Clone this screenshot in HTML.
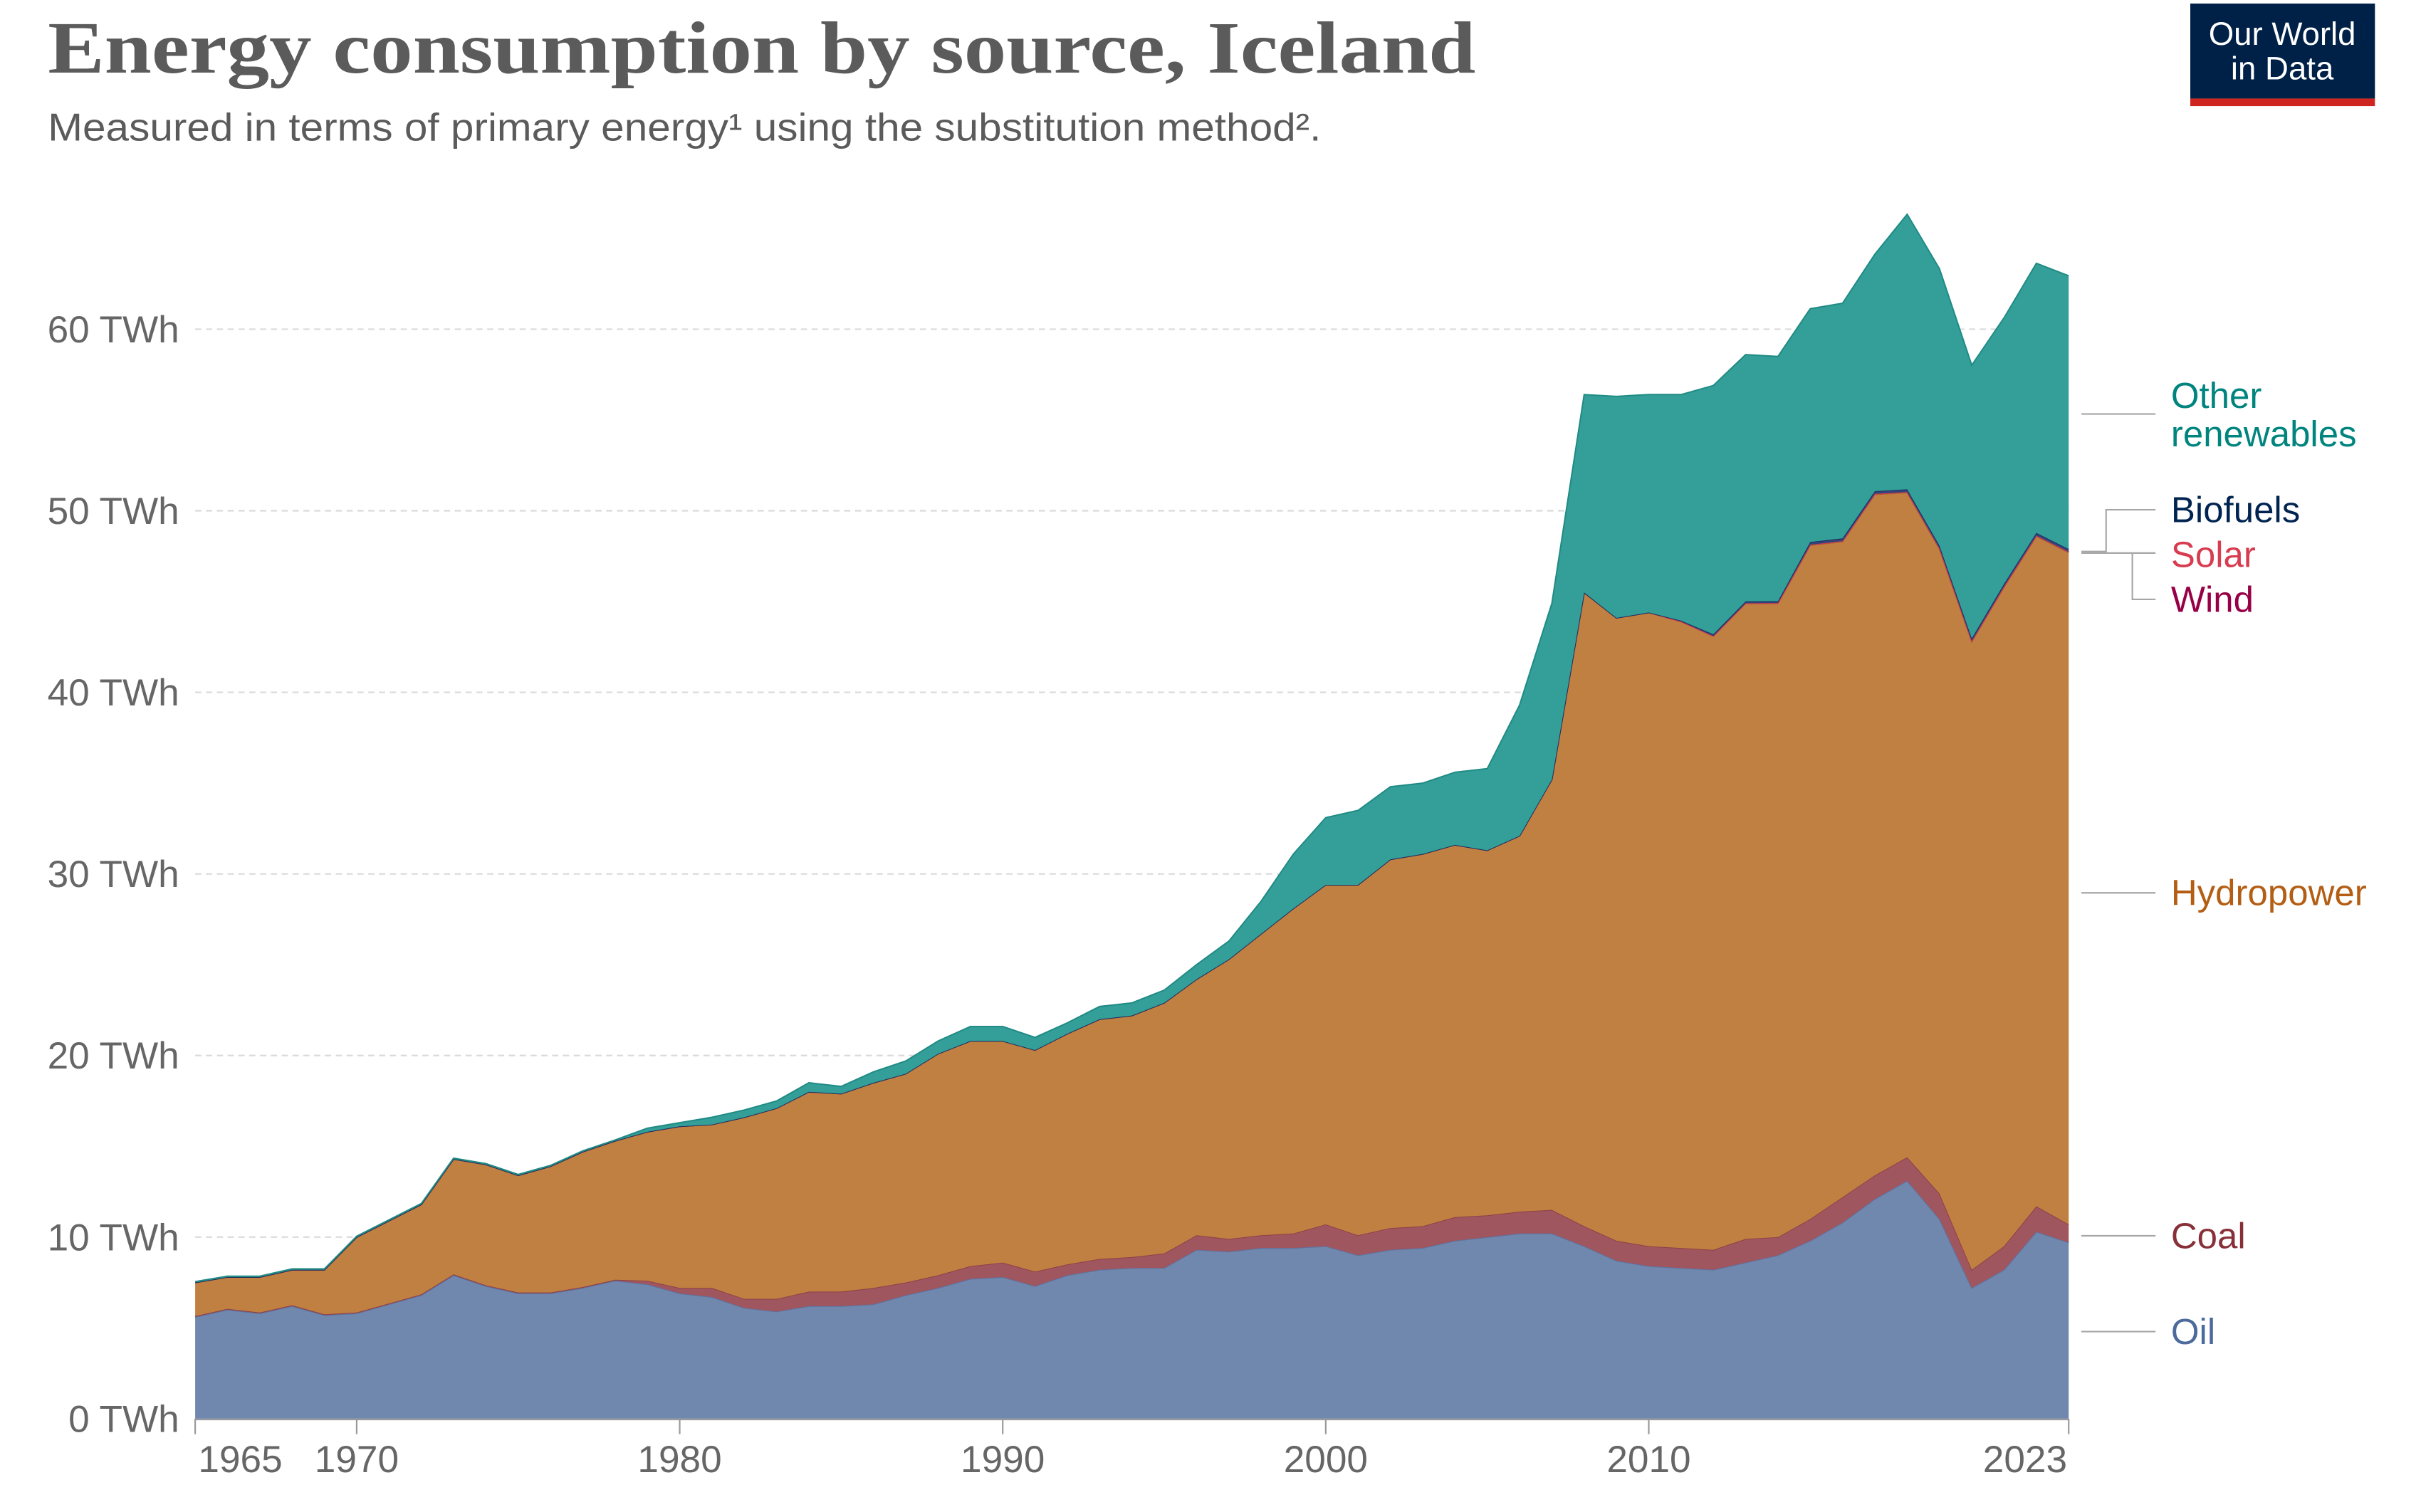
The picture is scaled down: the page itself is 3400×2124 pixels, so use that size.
<!DOCTYPE html>
<html><head><meta charset="utf-8"><style>html,body{margin:0;padding:0;background:#fff}svg{display:block}</style></head>
<body>
<svg id="chart" width="3400" height="2124" viewBox="0 0 1566.8 978.8" xmlns="http://www.w3.org/2000/svg" font-family="'Liberation Sans', sans-serif">
<text x="31" y="47" font-family="'Liberation Serif', serif" font-weight="bold" font-size="48" fill="#5b5b5b" textLength="924" lengthAdjust="spacingAndGlyphs">Energy consumption by source, Iceland</text>
<text x="31" y="91" font-size="25" fill="#5b5b5b" textLength="824" lengthAdjust="spacingAndGlyphs">Measured in terms of primary energy¹ using the substitution method².</text>
<g>
<rect x="1417.5" y="2.3" width="119.5" height="61.5" fill="#002147"/>
<rect x="1417.5" y="63.8" width="119.5" height="4.9" fill="#ce261e"/>
<text x="1477" y="29" text-anchor="middle" font-size="21" fill="#fff">Our World</text>
<text x="1477" y="51.5" text-anchor="middle" font-size="21" fill="#fff">in Data</text>
</g>
<g id="grid"></g>
<g id="areas"></g>
<g id="axes"></g>
<g id="labels"></g>
</svg>
<script>
const years = [];
for (let y = 1965; y <= 2023; y++) years.push(y);
const oil = [5.6,6.0,5.8,6.2,5.7,5.8,6.3,6.8,7.9,7.3,6.9,6.9,7.2,7.6,7.4,6.9,6.7,6.1,5.9,6.2,6.2,6.3,6.8,7.2,7.7,7.8,7.3,7.9,8.2,8.3,8.3,9.3,9.2,9.4,9.4,9.5,9.0,9.3,9.4,9.8,10.0,10.2,10.2,9.5,8.7,8.4,8.3,8.2,8.6,9.0,9.8,10.8,12.1,13.1,11.0,7.2,8.2,10.3,9.7];
const coal = [0.05,0.05,0.05,0.05,0.05,0.05,0.05,0.05,0.05,0.05,0.05,0.05,0.05,0.05,0.2,0.3,0.5,0.5,0.7,0.8,0.8,0.9,0.7,0.7,0.7,0.8,0.8,0.6,0.6,0.6,0.8,0.8,0.7,0.7,0.8,1.2,1.1,1.2,1.2,1.3,1.2,1.2,1.3,1.1,1.1,1.1,1.1,1.1,1.3,1.0,1.2,1.4,1.3,1.3,1.4,1.0,1.3,1.4,1.0];
const hydro = [1.85,1.75,1.95,1.95,2.45,4.15,4.55,4.95,6.35,6.65,6.45,6.95,7.45,7.65,8.2,8.9,9.0,10.0,10.5,11.0,10.9,11.3,11.5,12.2,12.4,12.2,12.2,12.7,13.2,13.3,13.8,14.1,15.4,16.6,17.9,18.7,19.3,20.3,20.5,20.5,20.1,20.7,23.7,34.9,34.3,34.9,34.5,33.8,35.0,34.9,37.1,36.1,37.5,36.6,35.5,34.6,36.3,36.9,37.0];
const wind = [0,0,0,0,0,0,0,0,0,0,0,0,0,0,0,0,0,0,0,0,0,0,0,0,0,0,0,0,0,0,0,0,0,0,0,0,0,0,0,0,0,0,0,0,0,0,0,0,0.01,0.02,0.03,0.03,0.03,0.03,0.03,0.02,0.03,0.03,0.03];
const solar = [0,0,0,0,0,0,0,0,0,0,0,0,0,0,0,0,0,0,0,0,0,0,0,0,0,0,0,0,0,0,0,0,0,0,0,0,0,0,0,0,0,0,0,0,0,0,0,0,0,0,0,0,0,0,0,0,0,0,0.01];
const biofuels = [0,0,0,0,0,0,0,0,0,0,0,0,0,0,0,0,0,0,0,0,0,0,0,0,0,0,0,0,0,0,0,0,0,0,0,0,0,0,0,0,0,0,0,0,0,0,0.05,0.1,0.1,0.1,0.15,0.15,0.15,0.15,0.15,0.15,0.15,0.15,0.15];
const other = [0.05,0.05,0.05,0.05,0.05,0.05,0.05,0.05,0.05,0.05,0.05,0.05,0.05,0.05,0.2,0.2,0.4,0.4,0.4,0.5,0.4,0.6,0.7,0.7,0.8,0.8,0.7,0.6,0.7,0.7,0.7,0.8,1.0,1.8,3.0,3.7,4.1,4.0,3.9,4.0,4.5,7.2,9.7,10.9,12.2,12.0,12.45,13.7,13.59,13.48,12.85,12.95,13.05,15.15,15.25,15.05,14.65,14.85,15.05];
const yTicks = [0,10,20,30,40,50,60];
const yTickLabels = ["0 TWh","10 TWh","20 TWh","30 TWh","40 TWh","50 TWh","60 TWh"];
const xTicks = [1965,1970,1980,1990,2000,2010,2023];
const xTickLabels = ["1965","1970","1980","1990","2000","2010","2023"];

const NS = "http://www.w3.org/2000/svg";
const X0 = 126.3, X1 = 1338.8, Y0 = 918.4, PER10 = 117.55;
function xs(yr){ return X0 + (yr - 1965) * (X1 - X0) / 58; }
function ys(v){ return Y0 - v * PER10 / 10; }
function mk(tag, attrs, parent){ const e = document.createElementNS(NS, tag); for (const k in attrs) e.setAttribute(k, attrs[k]); parent.appendChild(e); return e; }

const grid = document.getElementById('grid');
yTicks.forEach((t, i) => {
  if (t > 0) {
    const l = mk('line', {x1: X0, x2: X1, y1: ys(t), y2: ys(t), stroke: '#dadada', 'stroke-dasharray': '4,3', 'stroke-width': 1}, grid);
    
    
  }
  const tx = mk('text', {x: 116, y: ys(t) + 8.5, 'text-anchor': 'end', 'font-size': 24.5, fill: '#666'}, grid);
  tx.textContent = yTickLabels[i];
  
  
});

const series = [
  {name: 'oil', vals: oil, fill: '#7087ae', stroke: '#5b73a0'},
  {name: 'coal', vals: coal, fill: '#a0565f', stroke: '#8d3f49'},
  {name: 'hydropower', vals: hydro, fill: '#c08041', stroke: '#b06a26'},
  {name: 'wind', vals: wind, fill: '#a1306a', stroke: '#8c1c50'},
  {name: 'solar', vals: solar, fill: '#e35c6e', stroke: '#d73c50'},
  {name: 'biofuels', vals: biofuels, fill: '#34447a', stroke: '#1c2e5e'},
  {name: 'other-renewables', vals: other, fill: '#339f98', stroke: '#1f8a83'}
];
const areas = document.getElementById('areas');
let base = years.map(() => 0);
series.forEach(s => {
  const top = base.map((b, i) => b + s.vals[i]);
  let d = 'M' + years.map((y, i) => xs(y).toFixed(2) + ',' + ys(top[i]).toFixed(2)).join('L');
  for (let i = years.length - 1; i >= 0; i--) d += 'L' + xs(years[i]).toFixed(2) + ',' + ys(base[i]).toFixed(2);
  d += 'Z';
  const p = mk('path', {d: d, fill: s.fill, stroke: 'none'}, areas);
  
  
  const ld = 'M' + years.map((y, i) => xs(y).toFixed(2) + ',' + ys(top[i]).toFixed(2)).join('L');
  const l = mk('path', {d: ld, fill: 'none', stroke: s.stroke, 'stroke-width': 0.9}, areas);
  
  
  base = top;
});

const axes = document.getElementById('axes');
const ax = mk('line', {x1: X0, x2: X1, y1: Y0 + 0.5, y2: Y0 + 0.5, stroke: '#999', 'stroke-width': 1}, axes);


xTicks.forEach((t, i) => {
  const tk = mk('line', {x1: xs(t), x2: xs(t), y1: Y0, y2: Y0 + 10, stroke: '#999', 'stroke-width': 1}, axes);
  
  
  let anchor = 'middle', xx = xs(t);
  if (i === 0) { anchor = 'start'; xx = xs(t) + 2; }
  if (i === xTicks.length - 1) { anchor = 'end'; xx = xs(t) - 1; }
  const tx = mk('text', {x: xx, y: 953, 'text-anchor': anchor, 'font-size': 24.5, fill: '#666'}, axes);
  tx.textContent = xTickLabels[i];
  
  
});

const labels = document.getElementById('labels');
const leg = [
  {t: ['Other', 'renewables'], y: 264, c: '#00847e', line: 'M1347,268H1395'},
  {t: ['Biofuels'], y: 338, c: '#002451', line: 'M1347,357H1363V330H1395'},
  {t: ['Solar'], y: 367, c: '#d73c50', line: 'M1347,358H1395'},
  {t: ['Wind'], y: 396, c: '#970046', line: 'M1380,358V388H1395'},
  {t: ['Hydropower'], y: 586, c: '#b35e14', line: 'M1347,578H1395'},
  {t: ['Coal'], y: 808, c: '#883039', line: 'M1347,800H1395'},
  {t: ['Oil'], y: 870, c: '#4c6a9c', line: 'M1347,862H1395'}
];
leg.forEach(e => {
  const p = mk('path', {d: e.line, fill: 'none', stroke: '#a6a6a6', 'stroke-width': 1}, labels);
  
  
  e.t.forEach((line, j) => {
    const tx = mk('text', {x: 1405, y: e.y + j * 25, 'font-size': 23.5, fill: e.c}, labels);
    tx.textContent = line;
    
    
  });
});
</script>
</body></html>
